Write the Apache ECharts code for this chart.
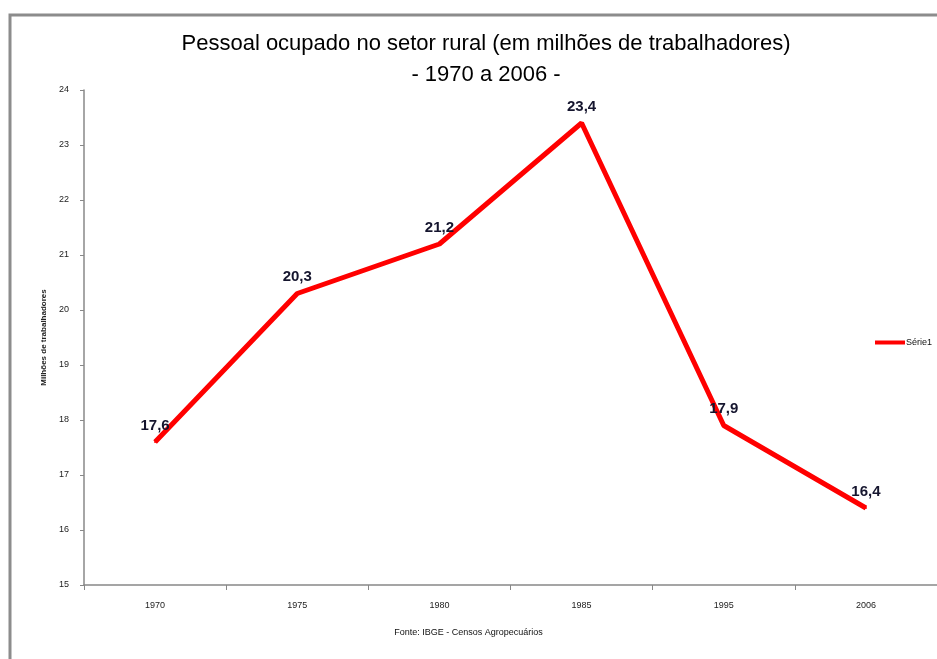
<!DOCTYPE html>
<html><head><meta charset="utf-8">
<script src="https://cdn.jsdelivr.net/npm/echarts@6/dist/echarts.min.js"></script>
<style>html,body{margin:0;padding:0;background:#fff}#c{width:937px;height:659px}</style>
</head><body><div id="c"></div>
<script>
const categories = ['1970', '1975', '1980', '1985', '1995', '2006'];
const serie1 = [17.6, 20.3, 21.2, 23.4, 17.9, 16.4];
const yTicks = [15, 16, 17, 18, 19, 20, 21, 22, 23, 24];

const narrow = '"Liberation Sans Narrow", "Arial Narrow", "Liberation Sans", sans-serif';
const chart = echarts.init(document.getElementById('c'));
chart.setOption({
  animation: false,
  backgroundColor: '#fff',
  graphic: [
    { type: 'rect', shape: { x: 10, y: 15, width: 960, height: 700 },
      style: { fill: 'none', stroke: '#8c8c8c', lineWidth: 3 }, silent: true },
    { type: 'text', left: 'center', top: 628, style: { text: 'Fonte: IBGE - Censos Agropecuários',
      font: '9px ' + narrow, fill: '#111' } }
  ],
  title: {
    text: 'Pessoal ocupado no setor rural (em milhões de trabalhadores)\n- 1970 a 2006 -',
    left: 481, textAlign: 'center', top: 23,
    textStyle: { fontFamily: narrow, fontSize: 22, fontWeight: 'normal', color: '#000', lineHeight: 31 }
  },
  legend: {
    right: 0, top: 333, itemWidth: 30, itemHeight: 4, itemGap: 2,
    icon: 'rect', textStyle: { fontSize: 9, color: '#111', padding: [0,0,0,-4] },
    data: ['Série1']
  },
  grid: { left: 84, top: 90, right: -8, bottom: 74 },
  xAxis: {
    type: 'category', data: categories, boundaryGap: true,
    axisLine: { lineStyle: { color: '#888', width: 1.5 } },
    axisTick: { show: true, length: 5, lineStyle: { color: '#888' } },
    axisLabel: { fontSize: 9, color: '#222', margin: 16, fontFamily: narrow }
  },
  yAxis: {
    type: 'value', min: 15, max: 24, interval: 1,
    name: 'Milhões de trabalhadores', nameLocation: 'middle', nameGap: 30, nameRotate: 90,
    nameTextStyle: { fontSize: 8, color: '#222', fontWeight: 'bold' },
    axisLine: { show: true, lineStyle: { color: '#888', width: 1.5 } },
    axisTick: { show: true, length: 4, lineStyle: { color: '#888' } },
    splitLine: { show: false },
    axisLabel: { fontSize: 9, color: '#222', margin: 15,
      formatter: v => yTicks.includes(v) ? String(v) : '' }
  },
  series: [{
    name: 'Série1', type: 'line', data: serie1,
    symbol: 'circle', symbolSize: 2, showSymbol: true, smooth: false,
    lineStyle: { color: '#ff0000', width: 5 },
    itemStyle: { color: '#ff0000' },
    label: { show: true, position: 'top', distance: 8, fontSize: 15, fontWeight: 'bold', color: '#15152e',
      fontFamily: 'Liberation Sans, Arial, sans-serif',
      formatter: p => String(p.value).replace('.', ',') }
  }]
});
</script></body></html>
